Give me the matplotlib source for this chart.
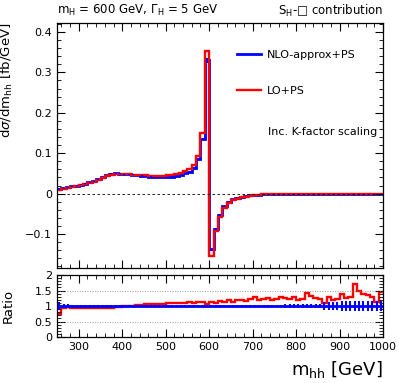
import numpy as np
import matplotlib
matplotlib.use("Agg")
import matplotlib.pyplot as plt
from matplotlib.ticker import MultipleLocator

# 10 GeV bins, 250 -> 1000 GeV
edges = np.arange(250, 1001, 10)

lo_ps = [0.008, 0.012, 0.015, 0.017, 0.019, 0.021, 0.023, 0.026, 0.029, 0.033,
         0.038, 0.043, 0.046, 0.048, 0.048, 0.048, 0.048, 0.047, 0.047, 0.046,
         0.045, 0.044, 0.044, 0.044, 0.044, 0.045, 0.046, 0.048, 0.051, 0.055,
         0.060, 0.070, 0.093, 0.150, 0.352, -0.153, -0.093, -0.058, -0.035, -0.023,
         -0.016, -0.012, -0.009, -0.007, -0.005, -0.004, -0.003, -0.002, -0.0015, -0.001,
         -0.001, -0.0008, -0.0006, -0.0005, -0.0004, -0.0003, -0.0003, -0.0002, -0.0002, -0.0002,
         -0.0001, -0.0001, -0.0001, -0.0001, -0.0001, 0.0, 0.0, 0.0, 0.0, 0.0,
         0.0, 0.0, 0.0, 0.0, 0.0]

nlo_ps = [0.011, 0.013, 0.016, 0.018, 0.020, 0.022, 0.025, 0.028, 0.031, 0.036,
          0.041, 0.046, 0.049, 0.050, 0.049, 0.048, 0.048, 0.047, 0.046, 0.044,
          0.043, 0.042, 0.041, 0.041, 0.041, 0.041, 0.042, 0.044, 0.046, 0.050,
          0.054, 0.064, 0.085, 0.135, 0.330, -0.138, -0.088, -0.053, -0.031, -0.020,
          -0.014, -0.010, -0.008, -0.006, -0.004, -0.003, -0.0025, -0.0017, -0.0012, -0.0008,
          -0.0008, -0.0006, -0.0005, -0.0004, -0.0003, -0.0002, -0.0002, -0.0002, -0.0001, -0.0001,
          -0.0001, -0.0001, -0.0001, -0.0001, -0.0001, 0.0, 0.0, 0.0, 0.0, 0.0,
          0.0, 0.0, 0.0, 0.0, 0.0]

nlo_err = [0.002, 0.001, 0.001, 0.001, 0.001, 0.001, 0.001, 0.001, 0.001, 0.001,
           0.001, 0.001, 0.001, 0.001, 0.001, 0.001, 0.001, 0.001, 0.001, 0.001,
           0.001, 0.001, 0.001, 0.001, 0.001, 0.001, 0.001, 0.001, 0.001, 0.001,
           0.001, 0.002, 0.002, 0.003, 0.006, 0.004, 0.002, 0.002, 0.001, 0.001,
           0, 0, 0, 0, 0, 0, 0, 0, 0, 0,
           0, 0, 0, 0, 0, 0, 0, 0, 0, 0,
           0, 0, 0, 0, 0, 0, 0, 0, 0, 0,
           0, 0, 0, 0, 0]

ratio_lo = [0.75, 0.95, 0.98, 0.92, 0.95, 0.93, 0.92, 0.92, 0.92, 0.92,
            0.92, 0.93, 0.94, 0.96, 0.98, 1.00, 1.00, 1.01, 1.02, 1.04,
            1.05, 1.06, 1.07, 1.07, 1.08, 1.09, 1.10, 1.09, 1.11, 1.10,
            1.12, 1.10, 1.13, 1.12, 1.08, 1.12, 1.10, 1.15, 1.12, 1.18,
            1.14, 1.18, 1.20, 1.16, 1.22, 1.30, 1.18, 1.22, 1.25, 1.20,
            1.24, 1.28, 1.26, 1.22, 1.28, 1.20, 1.24, 1.42, 1.32, 1.25,
            1.22, 1.10, 1.30, 1.18, 1.22, 1.40, 1.25, 1.30, 1.70, 1.50,
            1.40, 1.35, 1.30, 1.12, 1.45]

ratio_nlo_err = [0.12, 0.06, 0.05, 0.04, 0.04, 0.03, 0.03, 0.03, 0.03, 0.03,
                 0.03, 0.03, 0.03, 0.03, 0.03, 0.03, 0.03, 0.03, 0.03, 0.03,
                 0.03, 0.03, 0.03, 0.03, 0.03, 0.03, 0.03, 0.03, 0.03, 0.03,
                 0.03, 0.03, 0.03, 0.03, 0.03, 0.03, 0.03, 0.03, 0.03, 0.03,
                 0.03, 0.03, 0.03, 0.03, 0.03, 0.03, 0.04, 0.04, 0.04, 0.04,
                 0.04, 0.04, 0.05, 0.05, 0.05, 0.05, 0.05, 0.05, 0.05, 0.06,
                 0.06, 0.14, 0.14, 0.14, 0.14, 0.15, 0.15, 0.15, 0.15, 0.15,
                 0.15, 0.15, 0.16, 0.16, 0.16]

centers = 0.5 * (edges[:-1] + edges[1:])
blue = '#0000ff'
red = '#ff0000'

fig = plt.figure(figsize=(3.99, 3.83), dpi=100)
ax = fig.add_axes([0.143, 0.300, 0.817, 0.640])
axr = fig.add_axes([0.143, 0.120, 0.817, 0.162])

# main panel
ax.axhline(0, color='black', lw=0.6, ls=(0, (3, 3)))
ax.stairs(nlo_ps, edges, baseline=None, color=blue, lw=2.0, label='NLO-approx+PS')
ax.errorbar(centers, nlo_ps, yerr=nlo_err, fmt='none', ecolor=blue, elinewidth=1.5)
ax.stairs(lo_ps, edges, baseline=None, color=red, lw=1.7, label='LO+PS')

ax.set_xlim(250, 1000)
ax.set_ylim(-0.184, 0.422)
ax.xaxis.set_major_locator(MultipleLocator(100))
ax.xaxis.set_minor_locator(MultipleLocator(20))
ax.yaxis.set_major_locator(MultipleLocator(0.1))
ax.yaxis.set_minor_locator(MultipleLocator(0.02))
ax.set_yticks([-0.1, 0, 0.1, 0.2, 0.3, 0.4])
ax.set_yticklabels(['\u22120.1', '0', '0.1', '0.2', '0.3', '0.4'])
ax.tick_params(labelbottom=False)
ax.set_ylabel(r'd$\sigma$/dm$_{\mathrm{hh}}$ [fb/GeV]', fontsize=9.5, loc='top')
ax.yaxis.set_label_coords(-0.13, 1.0)

ax.legend(loc='upper left', bbox_to_anchor=(0.52, 0.93), frameon=False,
          fontsize=8, handlelength=2.2, labelspacing=2.3, handletextpad=0.5)
ax.text(0.646, 0.555, 'Inc. K-factor scaling', transform=ax.transAxes,
        fontsize=8, va='center', ha='left')

# ratio panel
for yv in [0.5, 1.0, 1.5]:
    axr.axhline(yv, color='grey', lw=0.6, ls=(0, (1, 2)))
axr.hlines(1.0, 250, 1000, color=blue, lw=2.0)
axr.errorbar(centers, np.ones(len(centers)), yerr=ratio_nlo_err, fmt='none',
             ecolor=blue, elinewidth=1.5)
axr.stairs(ratio_lo, edges, baseline=None, color=red, lw=1.7)

axr.set_xlim(250, 1000)
axr.set_ylim(0, 2)
axr.xaxis.set_major_locator(MultipleLocator(100))
axr.xaxis.set_minor_locator(MultipleLocator(20))
axr.yaxis.set_major_locator(MultipleLocator(0.5))
axr.yaxis.set_minor_locator(MultipleLocator(0.1))
axr.set_yticks([0, 0.5, 1, 1.5, 2])
axr.set_yticklabels(['0', '0.5', '1', '1.5', '2'])
axr.set_ylabel('Ratio', fontsize=9.5)
axr.yaxis.set_label_coords(-0.13, 0.5)

for a in (ax, axr):
    a.tick_params(which='both', direction='in', top=True, right=True, labelsize=8)
    a.tick_params(which='major', length=6, width=0.8)
    a.tick_params(which='minor', length=3, width=0.6)
    for s in a.spines.values():
        s.set_linewidth(0.9)

fig.text(0.143, 0.972, r'm$_{\mathrm{H}}$ = 600 GeV, $\Gamma_{\mathrm{H}}$ = 5 GeV',
         fontsize=8.5, ha='left', va='center')
fig.text(0.960, 0.972, r'S$_{\mathrm{H}}$-' + '\u25a1 contribution',
         fontsize=8.5, ha='right', va='center')
fig.text(0.960, 0.034, r'm$_{\mathrm{hh}}$ [GeV]', fontsize=13, ha='right', va='center')

fig.savefig('out.png', dpi=100)
